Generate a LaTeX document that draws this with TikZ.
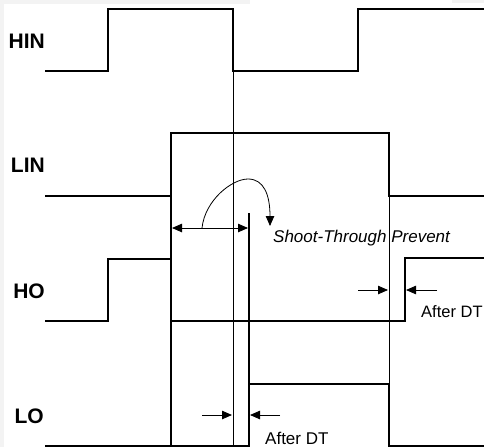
\documentclass[tikz,border=0pt]{standalone}
\usepackage{fontspec}
\setmainfont{Liberation Sans}
\usetikzlibrary{arrows.meta}
\definecolor{edgegray}{HTML}{F3F3F3}
\begin{document}
\begin{tikzpicture}[x=1pt,y=-1pt,
  sig/.style={line width=2pt, line join=miter},
  guide/.style={line width=0.8pt},
  dimarrow/.style={line width=0.8pt,-{Triangle[length=10pt,width=8.5pt]}},
  lbl/.style={font=\fontsize{21}{24}\selectfont\bfseries, anchor=base east, inner sep=0pt},
  note/.style={font=\fontsize{17}{20}\selectfont, anchor=base west, inner sep=0pt}]
\useasboundingbox (0,0) rectangle (484,447);
\fill[edgegray] (0,0) rectangle (4,447);
\fill[edgegray] (0,0) rectangle (250,4);
\fill[edgegray] (452,0) rectangle (484,3);
% labels
\node[lbl] (hin) at (45,48) {HIN};
\node[lbl] (lin) at (45,172) {LIN};
\node[lbl] (ho) at (45,298) {HO};
\node[lbl] (lo) at (44,423) {LO};
% guides
\draw[guide] (233,71) -- (233,447);
\draw[guide] (389,196) -- (389,384);
% signals
\draw[sig] (45,71) -- (108,71) -- (108,9) -- (233,9) -- (233,71) -- (358,71) -- (358,9) -- (484,9);
\draw[sig] (45,196) -- (171,196) -- (171,133) -- (389,133) -- (389,196) -- (484,196);
\draw[sig] (45,321) -- (108,321) -- (108,259) -- (171,259) -- (171,321) -- (405,321) -- (405,258) -- (484,258);
\draw[sig] (45,446) -- (249,446) -- (249,384) -- (389,384) -- (389,446) -- (484,446);
\draw[sig] (171,133) -- (171,447);
\draw[sig] (249,213) -- (249,384);
% shoot-through
\coordinate (stl) at (172,228);
\coordinate (str) at (248,228);
\coordinate (cs) at (202,228);
\coordinate (ct) at (270,226);
\draw[line width=0.8pt,{Triangle[length=10pt,width=8.5pt]}-{Triangle[length=10pt,width=8.5pt]}] (stl) -- (str);
\draw[dimarrow] (cs) .. controls (205,200) and (232,179) .. (248,179) .. controls (264,179) and (270,195) .. (ct);
\node[note, font=\fontsize{17}{20}\selectfont\itshape] (stp) at (273,242) {Shoot-Through Prevent};
% dead time HO
\coordinate (h1s) at (358,290);
\coordinate (h1e) at (388,290);
\coordinate (h2s) at (437,290);
\coordinate (h2e) at (406,290);
\draw[dimarrow] (h1s) -- (h1e);
\draw[dimarrow] (h2s) -- (h2e);
\node[note, font=\fontsize{16.5}{20}\selectfont] (adt1) at (421,317) {After DT};
% dead time LO
\coordinate (l1s) at (202,415);
\coordinate (l1e) at (232,415);
\coordinate (l2s) at (280,415);
\coordinate (l2e) at (250,415);
\draw[dimarrow] (l1s) -- (l1e);
\draw[dimarrow] (l2s) -- (l2e);
\node[note] (adt2) at (265,444) {After DT};
\end{tikzpicture}
\end{document}
